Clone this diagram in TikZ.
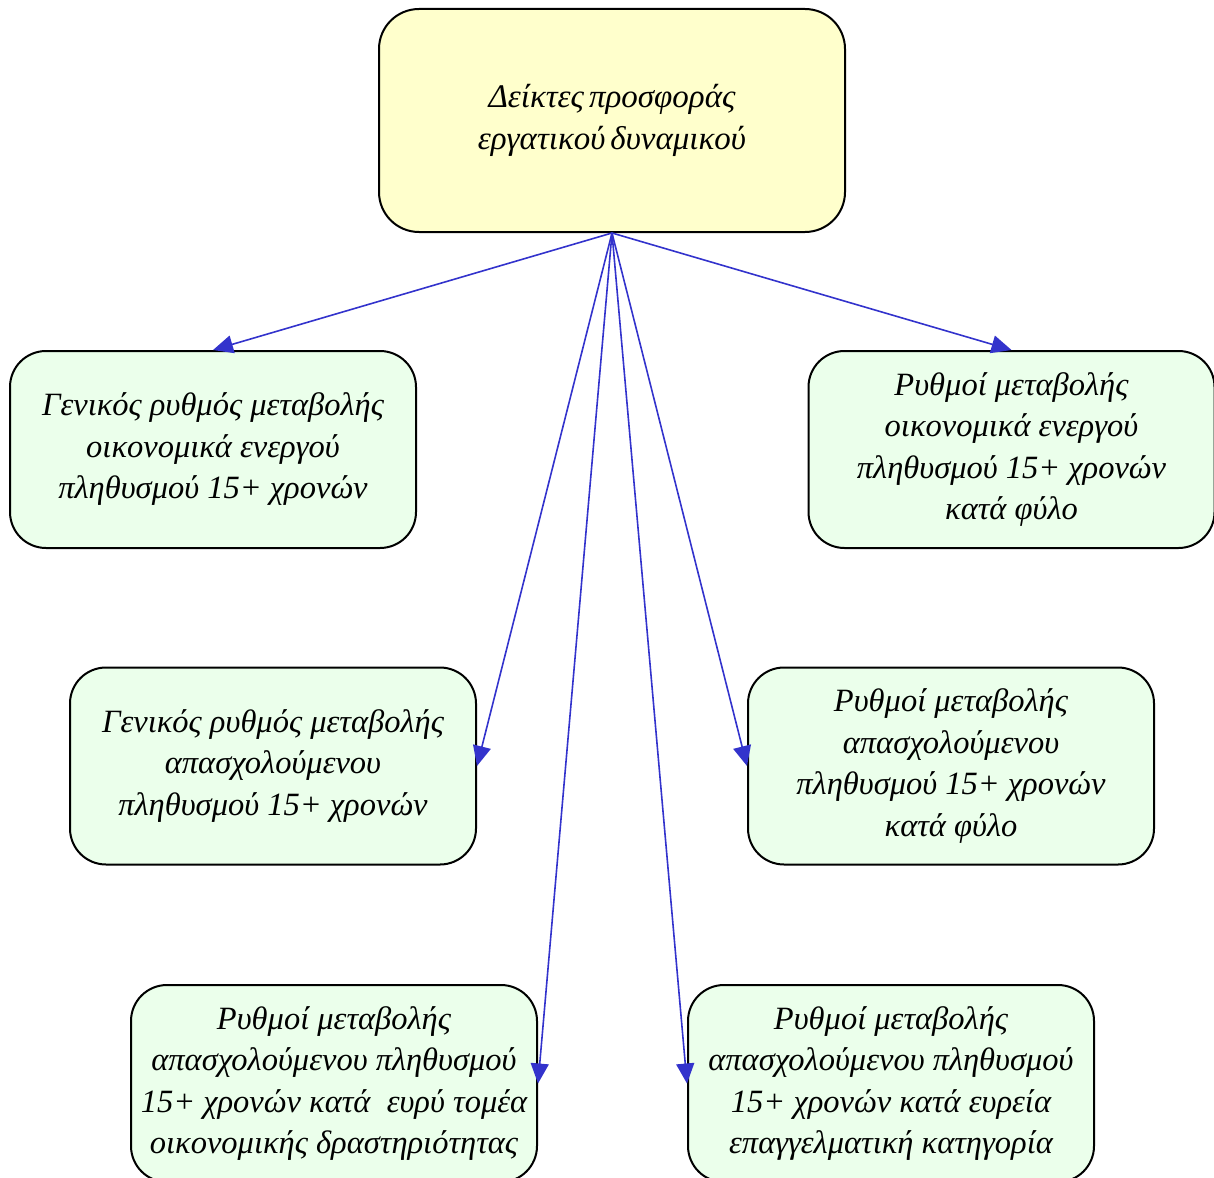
\documentclass[tikz,border=0pt]{standalone}
\usepackage{fontspec}
\setmainfont{Liberation Serif}
\usetikzlibrary{arrows.meta}
\definecolor{topfill}{HTML}{FFFFCC}
\definecolor{boxfill}{HTML}{EBFFEB}
\definecolor{arrowblue}{HTML}{3333CC}
\newcommand\mytightspace{\spaceskip=0.15em plus 0.05em\relax}
\begin{document}
\begin{tikzpicture}[x=1pt,y=-1pt,
  box/.style={draw=black, line width=2pt, rounded corners=36pt, fill=boxfill,
    minimum width=406pt, minimum height=197pt, align=center, inner sep=0pt,
    font=\fontsize{32.5}{41.5}\selectfont\itshape},
  topbox/.style={box, fill=topfill, minimum width=466pt, minimum height=223pt, rounded corners=40pt,
    font=\fontsize{33}{42}\selectfont\itshape\mytightspace},
  conn/.style={draw=arrowblue, line width=1.6pt, -{Triangle[length=20pt,width=18pt]}}]
\useasboundingbox (0,0) rectangle (1214,1177);
\node[topbox] (top) at (612,120.5) {Δείκτες προσφοράς\\ εργατικού δυναμικού};
\node[box] (l1) at (213,449.5) {Γενικός ρυθμός μεταβολής\\ οικονομικά ενεργού\\ πληθυσμού 15+ χρονών};
\node[box] (r1) at (1011.5,449.5) {Ρυθμοί μεταβολής\\ οικονομικά ενεργού\\ πληθυσμού 15+ χρονών\\ κατά φύλο};
\node[box] (l2) at (273,766) {Γενικός ρυθμός μεταβολής\\ απασχολούμενου\\ πληθυσμού 15+ χρονών};
\node[box] (r2) at (951,766) {Ρυθμοί μεταβολής\\ απασχολούμενου\\ πληθυσμού 15+ χρονών\\ κατά φύλο};
\node[box] (l3) at (334,1083.5) {Ρυθμοί μεταβολής\\ απασχολούμενου πληθυσμού\\ 15+ χρονών κατά\ \ ευρύ τομέα\\ οικονομικής δραστηριότητας};
\node[box] (r3) at (891,1083.5) {Ρυθμοί μεταβολής\\ απασχολούμενου πληθυσμού\\ 15+ χρονών κατά ευρεία\\ επαγγελματική κατηγορία};
\draw[conn] (top.south) -- (l1.north);
\draw[conn] (top.south) -- (r1.north);
\draw[conn] (top.south) -- (l2.east);
\draw[conn] (top.south) -- (r2.west);
\draw[conn] (top.south) -- (l3.east);
\draw[conn] (top.south) -- (r3.west);
\end{tikzpicture}
\end{document}
